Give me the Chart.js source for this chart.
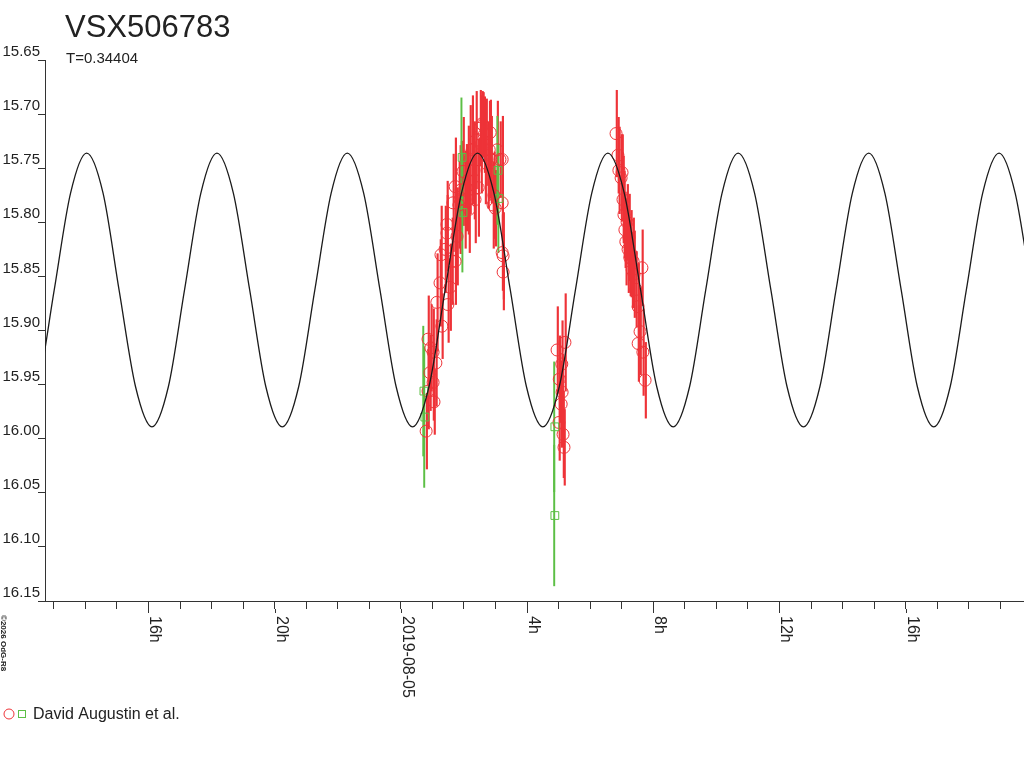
<!DOCTYPE html>
<html>
<head>
<meta charset="utf-8">
<title>VSX506783</title>
<script src="https://cdn.jsdelivr.net/npm/chart.js@4.4.1/dist/chart.umd.min.js"></script>
<style>
  html, body { margin: 0; padding: 0; background: #fff; }
  #wrap { width: 1024px; height: 768px; }
</style>
</head>
<body>
<div id="wrap"><canvas id="lc" width="1024" height="768"></canvas></div>
<script>
// hours relative to 2019-08-05 00:00
const xMin = -11.28;
const xMax = 19.75;

const xLabelValues = [-8, -4, 0, 4, 8, 12, 16];
const xLabelText = ['16h', '20h', '2019-08-05', '4h', '8h', '12h', '16h'];

const starName = 'VSX506783';
const periodText = 'T=0.34404';
const observer = 'David Augustin et al.';

// fitted light curve
const curveT = [-12.02, -11.50, -10.99, -10.47, -9.96, -9.44, -8.93, -8.41, -7.89, -7.37, -6.86, -6.34,
  -5.83, -5.31, -4.79, -4.28, -3.76, -3.24, -2.73, -2.21, -1.70, -1.18, -0.66, -0.15, 0.37, 0.89, 1.40,
  1.92, 2.43, 2.95, 3.47, 3.98, 4.50, 5.02, 5.53, 6.05, 6.56, 7.08, 7.60, 8.11, 8.63, 9.15, 9.66, 10.18,
  10.69, 11.21, 11.73, 12.24, 12.76, 13.28, 13.79, 14.31, 14.83, 15.34, 15.86, 16.37, 16.89, 17.41,
  17.92, 18.44, 18.96, 19.47, 19.99];
const curveMag = [
  15.989, 15.952, 15.863, 15.773, 15.736, 15.773, 15.863, 15.952,
  15.989, 15.952, 15.863, 15.773, 15.736, 15.773, 15.863, 15.952,
  15.989, 15.952, 15.863, 15.773, 15.736, 15.773, 15.863, 15.952,
  15.989, 15.952, 15.863, 15.773, 15.736, 15.773, 15.863, 15.952,
  15.989, 15.952, 15.863, 15.773, 15.736, 15.773, 15.863, 15.952,
  15.989, 15.952, 15.863, 15.773, 15.736, 15.773, 15.863, 15.952,
  15.989, 15.952, 15.863, 15.773, 15.736, 15.773, 15.863, 15.952,
  15.989, 15.952, 15.863, 15.773, 15.736, 15.773, 15.863];

// red circles
const redT = [0.80, 0.86, 0.86, 0.92, 0.95, 1.02, 1.02, 1.05, 1.11, 1.14, 1.24, 1.27, 1.30, 1.40, 1.46,
  1.46, 1.49, 1.56, 1.62, 1.65, 1.72, 1.72, 1.78, 1.84, 1.87, 1.91, 1.97, 2.03, 2.07, 2.13, 2.16, 2.19,
  2.26, 2.32, 2.35, 2.38, 2.45, 2.51, 2.54, 2.57, 2.60, 2.64, 2.67, 2.70, 2.76, 2.80, 2.83, 2.86, 2.92,
  2.95, 2.99, 3.05, 3.14, 3.21, 3.21, 3.21, 3.24, 3.24,
  4.95, 5.01, 5.02, 5.08, 5.10, 5.11, 5.14, 5.17, 5.20,
  6.82, 6.88, 6.91, 6.98, 7.01, 7.04, 7.07, 7.10, 7.13, 7.17, 7.20, 7.23, 7.26, 7.29, 7.33, 7.36, 7.39,
  7.45, 7.52, 7.58, 7.52, 7.64, 7.67, 7.74];
const redMag = [15.993, 15.956, 15.908, 15.939, 15.916, 15.948, 15.920, 15.966, 15.930, 15.874, 15.856,
  15.830, 15.896, 15.825, 15.802, 15.810, 15.876, 15.860, 15.836, 15.782, 15.767, 15.836, 15.813, 15.784,
  15.779, 15.770, 15.753, 15.779, 15.768, 15.761, 15.788, 15.742, 15.733, 15.752, 15.779, 15.724, 15.768,
  15.713, 15.728, 15.709, 15.710, 15.719, 15.738, 15.726, 15.747, 15.733, 15.717, 15.742, 15.784, 15.775,
  15.787, 15.733, 15.742, 15.742, 15.782, 15.828, 15.846, 15.831,
  15.918, 15.985, 15.945, 15.968, 15.931, 15.957, 15.996, 16.008, 15.911,
  15.718, 15.738, 15.752, 15.759, 15.754, 15.779, 15.793, 15.807, 15.818, 15.800, 15.825, 15.814, 15.833,
  15.829, 15.844, 15.836, 15.848, 15.862, 15.878, 15.901, 15.912, 15.842, 15.920, 15.946];
const redErr = [0.035, 0.035, 0.04, 0.035, 0.04, 0.035, 0.04, 0.03, 0.04, 0.045,
  0.04, 0.045, 0.03, 0.04, 0.04, 0.035, 0.035, 0.04, 0.04, 0.045,
  0.045, 0.04, 0.045, 0.04, 0.05, 0.045, 0.05, 0.045, 0.04, 0.05,
  0.04, 0.05, 0.05, 0.045, 0.04, 0.045, 0.045, 0.035, 0.045, 0.03,
  0.03, 0.035, 0.045, 0.04, 0.04, 0.045, 0.03, 0.04, 0.04, 0.04,
  0.035, 0.045, 0.035, 0.04, 0.04, 0.035, 0.035, 0.04,
  0.04, 0.035, 0.04, 0.04, 0.04, 0.035, 0.04, 0.035, 0.045,
  0.04, 0.035, 0.04, 0.04, 0.035, 0.04, 0.04, 0.035, 0.04, 0.035, 0.04, 0.04, 0.035,
  0.04, 0.035, 0.04, 0.04, 0.035, 0.04, 0.04, 0.035, 0.035, 0.04, 0.035];

// green squares
const greenT = [0.73, 0.76, 1.94, 1.97, 3.08, 3.11, 4.88, 4.88];
const greenMag = [15.956, 15.980, 15.740, 15.791, 15.752, 15.778, 15.989, 16.071];
const greenErr = [0.06, 0.065, 0.055, 0.055, 0.05, 0.05, 0.06, 0.065];

const RED = '#ee3338';
const GREEN = '#5cbf45';
const INK = '#222';
const FONT = '"Liberation Sans", Arial, sans-serif';

Chart.defaults.font.family = FONT;

const pts = (ts, ms) => ts.map((t, i) => ({ x: t, y: ms[i] }));
const errBars = (ts, ms, es) => ts.map((t, i) => ({ x: t, y: [ms[i] - es[i], ms[i] + es[i]] }));

// titles, rotated date labels, legend
const overlay = {
  id: 'overlay',
  afterDraw(chart) {
    const ctx = chart.ctx;
    const xs = chart.scales.x;
    const bottom = chart.chartArea.bottom;
    ctx.save();
    ctx.fillStyle = INK;
    ctx.strokeStyle = '#333';
    ctx.lineWidth = 1;
    ctx.textAlign = 'left';
    ctx.textBaseline = 'alphabetic';

    ctx.font = '31px ' + FONT;
    ctx.fillText(starName, 65, 37);
    ctx.font = '15px ' + FONT;
    ctx.fillText(periodText, 66, 63);

    ctx.font = '16px ' + FONT;
    xLabelValues.forEach((v, i) => {
      const px = Math.round(xs.getPixelForValue(v)) + 0.5;
      ctx.beginPath();
      ctx.moveTo(px, bottom + 8);
      ctx.lineTo(px, bottom + 12);
      ctx.stroke();
      ctx.save();
      ctx.translate(px + 1, bottom + 15);
      ctx.rotate(Math.PI / 2);
      ctx.fillText(xLabelText[i], 0, 0);
      ctx.restore();
    });

    ctx.save();
    ctx.font = 'bold 8px ' + FONT;
    ctx.translate(1, 615);
    ctx.rotate(Math.PI / 2);
    ctx.fillText('\u00a92026 OdG-R8', 0, 0);
    ctx.restore();

    ctx.strokeStyle = RED;
    ctx.beginPath();
    ctx.arc(9, 714, 5, 0, Math.PI * 2);
    ctx.stroke();
    ctx.strokeStyle = GREEN;
    ctx.strokeRect(18.5, 710.5, 7, 7);
    ctx.font = '16px ' + FONT;
    ctx.fillText(observer, 33, 719);
    ctx.restore();
  }
};

new Chart(document.getElementById('lc'), {
  type: 'scatter',
  data: {
    datasets: [
      {
        type: 'line',
        data: pts(curveT, curveMag),
        borderColor: '#1b1b1b',
        borderWidth: 1.3,
        pointRadius: 0,
        cubicInterpolationMode: 'monotone',
        fill: false,
        order: 1
      },
      {
        data: pts(greenT, greenMag),
        pointStyle: 'rect',
        pointRadius: 5.5,
        borderColor: GREEN,
        borderWidth: 1,
        backgroundColor: 'transparent',
        order: 2
      },
      {
        data: pts(redT, redMag),
        pointStyle: 'circle',
        pointRadius: 6,
        borderColor: RED,
        borderWidth: 1,
        backgroundColor: 'transparent',
        order: 3
      },
      {
        type: 'bar',
        data: errBars(greenT, greenMag, greenErr),
        backgroundColor: GREEN,
        barThickness: 1.3,
        order: 4
      },
      {
        type: 'bar',
        data: errBars(redT, redMag, redErr),
        backgroundColor: RED,
        barThickness: 1.5,
        order: 5
      }
    ]
  },
  options: {
    responsive: false,
    animation: false,
    events: [],
    layout: { autoPadding: false, padding: { top: 60, right: 0, bottom: 0, left: 0 } },
    plugins: {
      legend: { display: false },
      tooltip: { enabled: false },
      title: { display: false }
    },
    scales: {
      x: {
        type: 'linear',
        min: xMin,
        max: xMax,
        offset: false,
        afterFit: (s) => { s.height = 167; },
        border: { display: true, color: '#333', width: 1 },
        grid: { offset: false, drawOnChartArea: false, tickLength: 8, tickColor: '#333', color: '#333' },
        ticks: { display: false, stepSize: 1, includeBounds: false }
      },
      y: {
        type: 'linear',
        reverse: true,
        min: 15.65,
        max: 16.15,
        afterFit: (s) => { s.width = 45; },
        border: { display: true, color: '#333', width: 1 },
        grid: { offset: false, drawOnChartArea: false, tickLength: 7, tickColor: '#333', color: '#333' },
        ticks: {
          stepSize: 0.05,
          padding: -2,
          labelOffset: -8,
          color: INK,
          font: { size: 15 },
          callback: (v) => v.toFixed(2)
        }
      }
    }
  },
  plugins: [overlay]
});
</script>
</body>
</html>
